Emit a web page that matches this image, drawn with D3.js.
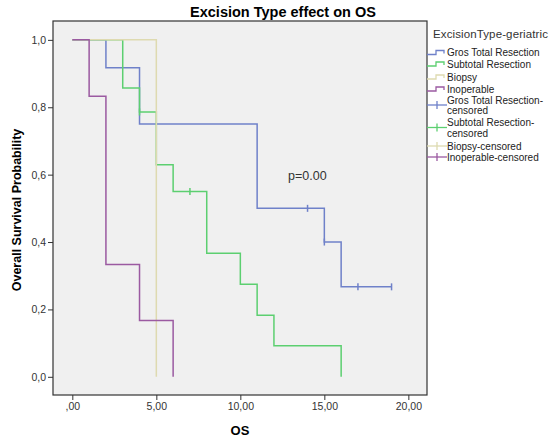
<!DOCTYPE html>
<html>
<head>
<meta charset="utf-8">
<script src="https://cdn.jsdelivr.net/npm/d3@7"></script>
<style>
  body { margin: 0; background: #fff; }
  svg { font-family: "Liberation Sans", Arial, sans-serif; }
  .axis text { font-size: 10.5px; fill: #333; }
  .axis line { stroke: #333; }
</style>
</head>
<body>
<svg id="chart" width="556" height="441"></svg>
<script>
  // groups in draw order (last one ends up on top)
  const groups = ['Gros Total Resection', 'Subtotal Resection', 'Biopsy', 'Inoperable'];
  const colors = ['#6f81c9', '#5ccf70', '#dedab0', '#9b5aa1'];

  // Kaplan-Meier steps
  const stepTimes = [
    [0, 2, 4, 11, 15, 16, 19],
    [0, 3, 4, 5, 6, 8, 10, 11, 12, 16],
    [0, 5],
    [0, 1, 2, 4, 6]
  ];
  const stepSurv = [
    [1, 0.917, 0.75, 0.5, 0.4, 0.267, 0.267],
    [1, 0.857, 0.786, 0.629, 0.55, 0.367, 0.275, 0.183, 0.092, 0],
    [1, 0],
    [1, 0.833, 0.333, 0.167, 0]
  ];
  const censorTimes = [[14, 15, 17, 19], [4, 7], [], []];

  const xTicks = [0, 5, 10, 15, 20];
  const yTicks = [0, 0.2, 0.4, 0.6, 0.8, 1.0];

  const legendLabels = [
    ['Gros Total Resection'], ['Subtotal Resection'], ['Biopsy'], ['Inoperable'],
    ['Gros Total Resection-', 'censored'], ['Subtotal Resection-', 'censored'],
    ['Biopsy-censored'], ['Inoperable-censored']
  ];

  const svg = d3.select('#chart');
  const box = {left: 53, top: 21, right: 427, bottom: 395};

  const x = d3.scaleLinear().domain([-1.15, 21.11]).range([box.left, box.right]);
  const y = d3.scaleLinear().domain([-0.054, 1.056]).range([box.bottom, box.top]);

  // plot background + frame
  svg.append('rect')
    .attr('x', box.left).attr('y', box.top)
    .attr('width', box.right - box.left).attr('height', box.bottom - box.top)
    .attr('fill', '#f0f0f0').attr('stroke', '#333').attr('stroke-width', 1.2);

  const comma = s => s.replace('.', ',');

  svg.append('g')
    .attr('class', 'axis')
    .attr('transform', `translate(0,${box.bottom})`)
    .call(d3.axisBottom(x).tickValues(xTicks).tickSize(5).tickPadding(3)
      .tickFormat(d => { let s = comma(d3.format('.2f')(d)); return s.startsWith('0,') ? s.slice(1) : s; }))
    .call(g => g.select('.domain').remove());

  svg.append('g')
    .attr('class', 'axis')
    .attr('transform', `translate(${box.left},0)`)
    .call(d3.axisLeft(y).tickValues(yTicks).tickSize(5).tickPadding(2)
      .tickFormat(d => comma(d3.format('.1f')(d))))
    .call(g => g.select('.domain').remove());

  // survival curves
  const line = d3.line()
    .x(d => x(d[0]))
    .y(d => y(d[1]))
    .curve(d3.curveStepAfter);

  const survAt = (gi, t) => {
    let v = stepSurv[gi][0];
    stepTimes[gi].forEach((st, i) => { if (st <= t) v = stepSurv[gi][i]; });
    return v;
  };

  groups.forEach((g, gi) => {
    const pts = stepTimes[gi].map((t, i) => [t, stepSurv[gi][i]]);
    svg.append('path')
      .datum(pts)
      .attr('d', line)
      .attr('fill', 'none')
      .attr('stroke', colors[gi])
      .attr('stroke-width', 1.5);

    // censor marks
    svg.append('g')
      .selectAll('line')
      .data(censorTimes[gi])
      .join('line')
      .attr('x1', d => x(d)).attr('x2', d => x(d))
      .attr('y1', d => y(survAt(gi, d)) - 3.5)
      .attr('y2', d => y(survAt(gi, d)) + 3.5)
      .attr('stroke', colors[gi])
      .attr('stroke-width', 1.5);
  });

  // p value
  svg.append('text')
    .attr('x', 288).attr('y', 180)
    .attr('font-size', 12.5).attr('fill', '#333')
    .text('p=0.00');

  // titles
  svg.append('text')
    .attr('x', 283).attr('y', 17)
    .attr('text-anchor', 'middle')
    .attr('font-size', 14.5).attr('font-weight', 'bold')
    .text('Excision Type effect on OS');

  svg.append('text')
    .attr('x', 240).attr('y', 435)
    .attr('text-anchor', 'middle')
    .attr('font-size', 13).attr('font-weight', 'bold')
    .text('OS');

  svg.append('text')
    .attr('transform', 'translate(21,210) rotate(-90)')
    .attr('text-anchor', 'middle')
    .attr('font-size', 12.5).attr('font-weight', 'bold')
    .text('Overall Survival Probability');

  // legend
  const legend = svg.append('g');
  legend.append('text')
    .attr('x', 433).attr('y', 38)
    .attr('font-size', 11.5).attr('fill', '#333')
    .attr('textLength', 115).attr('lengthAdjust', 'spacing')
    .text('ExcisionType-geriatric');

  const rowY = [52.5, 64, 77, 89, 105, 127.5, 146, 157];
  legendLabels.forEach((lab, i) => {
    const gi = i % 4;
    const yy = rowY[i];
    if (i < 4) {
      legend.append('path')
        .attr('d', `M427,${yy + 2}H436V${yy - 2}H444V${yy + 1}`)
        .attr('fill', 'none').attr('stroke', colors[gi]).attr('stroke-width', 1.3);
    } else {
      legend.append('line')
        .attr('x1', 427).attr('x2', 447).attr('y1', yy).attr('y2', yy)
        .attr('stroke', colors[gi]).attr('stroke-width', 1.3);
      legend.append('line')
        .attr('x1', 437).attr('x2', 437).attr('y1', yy - 4).attr('y2', yy + 4)
        .attr('stroke', colors[gi]).attr('stroke-width', 1.3);
    }
    const txt = legend.append('text')
      .attr('x', 447)
      .attr('font-size', 10).attr('fill', '#222');
    if (lab.length === 1) {
      txt.attr('y', yy + 3.5).text(lab[0]);
    } else {
      txt.append('tspan').attr('x', 447).attr('y', yy - 1.5).text(lab[0]);
      txt.append('tspan').attr('x', 447).attr('y', yy + 9).text(lab[1]);
    }
  });
</script>
</body>
</html>
